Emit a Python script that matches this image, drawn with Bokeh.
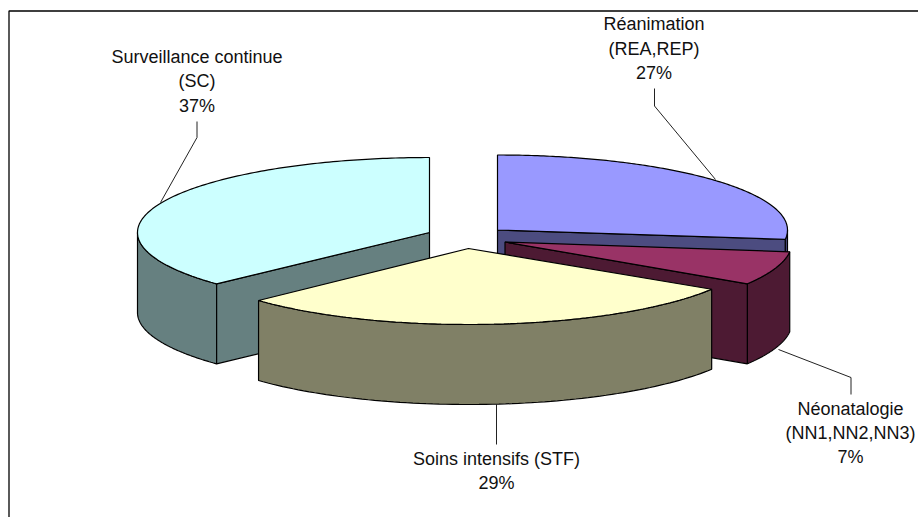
import numpy as np
from bokeh.plotting import figure
from bokeh.models import Range1d
from bokeh.core.properties import value
from bokeh.embed import file_html
from bokeh.resources import INLINE

# data, clockwise from 12 o'clock
categories = ["Réanimation", "Néonatalogie", "Soins intensifs", "Surveillance continue"]
shares = [27, 7, 29, 37]
top_colors = ["#9999FF", "#993366", "#FFFFCC", "#CCFFFF"]
side_colors = ["#4C4C80", "#4D1A33", "#808066", "#668080"]
label_lines = [
    ["Réanimation", "(REA,REP)", "27%"],
    ["Néonatalogie", "(NN1,NN2,NN3)", "7%"],
    ["Soins intensifs (STF)", "29%"],
    ["Surveillance continue", "(SC)", "37%"],
]

# layout: exploded slice centre and ellipse radii, in page pixels
centers = [(497, 229.5), (504.5, 241.5), (468, 248), (429, 232)]
radii = [(290, 75), (287, 78), (288, 76), (292, 75)]
depth = 80
label_x = [653.5, 850, 496, 196.5]
label_y = [[23, 48, 72], [408, 432.5, 456.5], [458, 482.5], [56, 80.5, 105]]
leaders = [
    ([654, 654, 715], [88, 105.5, 179]),
    ([850.5, 850.5, 778], [394, 377, 349]),
    ([496, 496], [403.5, 444]),
    ([196.5, 196.5, 160], [121, 137, 202]),
]

p = figure(width=918, height=517, output_backend="svg", toolbar_location=None,
           x_range=Range1d(0, 918), y_range=Range1d(517, 0),
           x_axis_type=None, y_axis_type=None, min_border=0,
           outline_line_color=None, background_fill_color="white",
           border_fill_color="white")
p.grid.visible = False

edges = np.concatenate([[0], np.cumsum(shares)]) * 3.6


def pt(i, deg):
    cx, cy = centers[i]
    rx, ry = radii[i]
    a = np.radians(deg)
    return cx + rx * np.sin(a), cy - ry * np.cos(a)


def draw_slice(i, radial_walls):
    a0, a1 = edges[i], edges[i + 1]
    cx, cy = centers[i]
    style = dict(line_color="black", line_width=1.2)
    # outer wall: only the front half of the rim faces the viewer
    f0, f1 = max(a0, 90), min(a1, 270)
    if f1 > f0:
        xs, ys = pt(i, np.linspace(f0, f1, 80))
        p.patch(np.concatenate([xs, xs[::-1]]), np.concatenate([ys, ys[::-1] + depth]),
                fill_color=side_colors[i], **style)
    # flat cut walls
    for deg in radial_walls:
        ex, ey = pt(i, deg)
        p.patch([cx, ex, ex, cx], [cy, ey, ey + depth, cy + depth],
                fill_color=side_colors[i], **style)
    # top face
    xs, ys = pt(i, np.linspace(a0, a1, 160))
    p.patch(np.concatenate([[cx], xs]), np.concatenate([[cy], ys]),
            fill_color=top_colors[i], **style)


# painter's order: back slices first
draw_slice(0, [edges[1]])
draw_slice(1, [edges[2]])
draw_slice(3, [edges[3]])
draw_slice(2, [])

# chart frame: only its top and left edges fall inside the picture
p.line([8.5, 8.5, 918], [517, 10.5, 10.5], line_color="black", line_width=1.3)

for (lx, ly) in leaders:
    p.line(lx, ly, line_color="#222222", line_width=1)

for i, lines in enumerate(label_lines):
    p.text([label_x[i]] * len(lines), label_y[i], text=lines,
           text_font=value("Liberation Sans"), text_font_size="18px",
           text_color="#111111", text_align="center", text_baseline="middle")

open("out.html", "w").write(file_html(p, INLINE))
